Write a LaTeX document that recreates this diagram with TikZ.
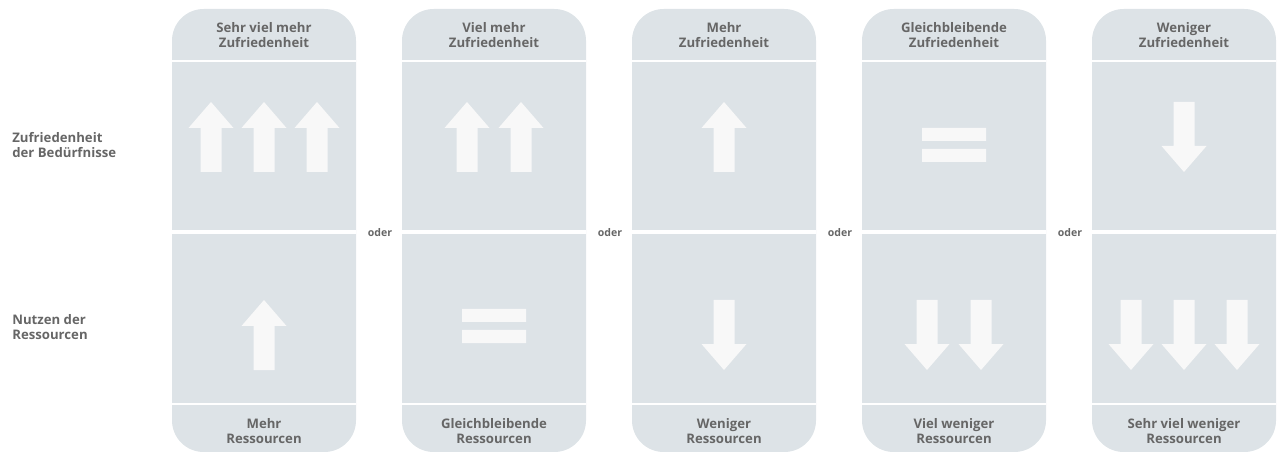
\documentclass[tikz,border=0pt]{standalone}
\usepackage{fontspec}
\setmainfont{Open Sans}
\definecolor{panelgrau}{HTML}{DDE3E7}
\definecolor{pfeilweiss}{HTML}{F8F8F8}
\definecolor{textgrau}{HTML}{666666}
\tikzset{
  titel/.style={font=\bfseries\fontsize{7.5}{8.1}\selectfont, text=textgrau, align=center, inner sep=0pt},
  seite/.style={titel, align=left, anchor=west},
  oder/.style={font=\bfseries\fontsize{6}{7}\selectfont, text=textgrau, inner sep=0pt},
  trenner/.style={white, line width=#1},
}
% arrows and equal sign, centre (#1,#2), y grows downwards
\newcommand{\pfeilauf}[2]{\fill[pfeilweiss] (#1-10.5,#2+35) -- (#1+10.5,#2+35) -- (#1+10.5,#2-9) -- (#1+22.5,#2-9) -- (#1,#2-35) -- (#1-22.5,#2-9) -- (#1-10.5,#2-9) -- cycle;}
\newcommand{\pfeilab}[2]{\fill[pfeilweiss] (#1-10.5,#2-35) -- (#1+10.5,#2-35) -- (#1+10.5,#2+9) -- (#1+22.5,#2+9) -- (#1,#2+35) -- (#1-22.5,#2+9) -- (#1-10.5,#2+9) -- cycle;}
\newcommand{\gleich}[2]{\fill[pfeilweiss] (#1-32,#2-17) rectangle (#1+32,#2-4) (#1-32,#2+4) rectangle (#1+32,#2+17);}
\begin{document}
\begin{tikzpicture}[x=0.02cm,y=-0.02cm]
\useasboundingbox (0,0) rectangle (1277,452);
% left labels
\node[seite] (zufr) at (12,145) {Zufriedenheit\\der Bedürfnisse};
\node[seite] (nutz) at (12,327) {Nutzen der\\Ressourcen};
% columns
\foreach \i/\kopf/\fuss in {1/{Sehr viel mehr\\Zufriedenheit}/{Mehr\\Ressourcen},
    2/{Viel mehr\\Zufriedenheit}/{Gleichbleibende\\Ressourcen},
    3/{Mehr\\Zufriedenheit}/{Weniger\\Ressourcen},
    4/{Gleichbleibende\\Zufriedenheit}/{Viel weniger\\Ressourcen},
    5/{Weniger\\Zufriedenheit}/{Sehr viel weniger\\Ressourcen}}
{
  \pgfmathsetmacro{\xa}{172+230*(\i-1)}
  \pgfmathsetmacro{\xm}{\xa+92}
  \fill[panelgrau, rounded corners=18] (\xa,9) rectangle (\xa+184,452);
  \draw[trenner=1.6pt] (\xa,61) -- (\xa+184,61);
  \draw[trenner=2.2pt] (\xa,232) -- (\xa+184,232);
  \draw[trenner=1.6pt] (\xa,404) -- (\xa+184,404);
  \node[titel] (kopf-\i) at (\xm,35) {\kopf};
  \node[titel] (fuss-\i) at (\xm,431) {\fuss};
}
\foreach \i in {1,...,4}
  \node[oder] (oder-\i) at (380+230*\i-230,233) {oder};
% column 1
\foreach \dx in {-53,0,53} {\pfeilauf{264+\dx}{137}}
\pfeilauf{264}{335}
% column 2
\foreach \dx in {-27,27} {\pfeilauf{494+\dx}{137}}
\gleich{494}{326}
% column 3
\pfeilauf{724}{137}
\pfeilab{724}{335}
% column 4
\gleich{954}{145}
\foreach \dx in {-27,27} {\pfeilab{954+\dx}{335}}
% column 5
\pfeilab{1184}{137}
\foreach \dx in {-53,0,53} {\pfeilab{1184+\dx}{335}}
\end{tikzpicture}
\end{document}
